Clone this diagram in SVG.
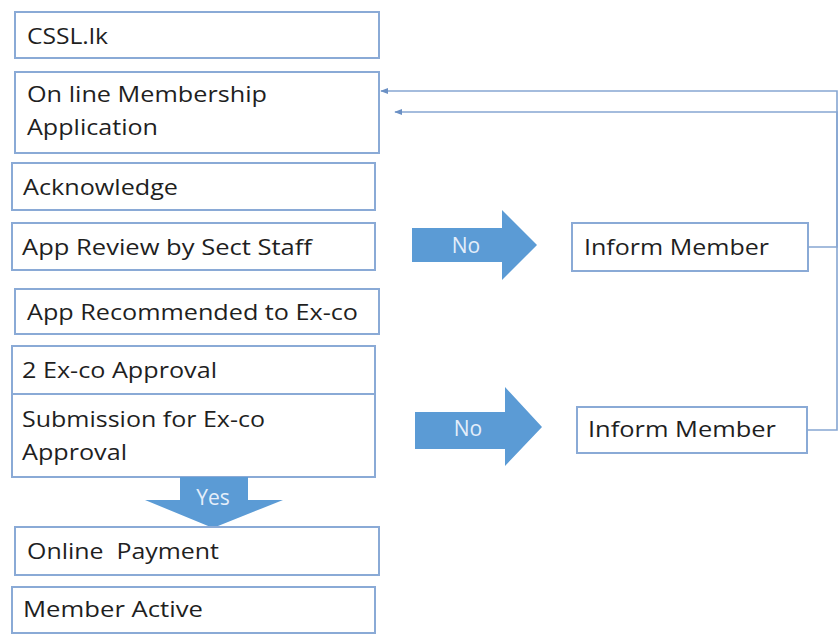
<svg xmlns="http://www.w3.org/2000/svg" width="839" height="634" viewBox="0 0 839 634">
<defs>
<style>
.box{fill:#fff;stroke:#8aaad6;stroke-width:2}
.t{font-family:"Open Sans","Liberation Sans",Arial,sans-serif;font-size:21px;fill:#1f1f1f}
.w{font-family:"Open Sans","Liberation Sans",Arial,sans-serif;font-size:21px;fill:#e4eefa}
.blk{fill:#5b9bd5}
.con{fill:none;stroke:#86a6d2;stroke-width:1.6}
</style>
<marker id="ah" viewBox="0 0 10 10" refX="9" refY="5" markerWidth="5" markerHeight="5" orient="auto"><path d="M0,1 L10,5 L0,9 Z" fill="#6b90c4"/></marker>
</defs>
<rect width="839" height="634" fill="#fff"/>
<g id="n-cssl"><rect class="box" x="15" y="12" width="364" height="46"/><text class="t" x="27" y="44" textLength="81" lengthAdjust="spacingAndGlyphs">CSSL.lk</text></g>
<g id="n-online"><rect class="box" x="15" y="72" width="364" height="81"/><text class="t" x="27" y="102" textLength="240" lengthAdjust="spacingAndGlyphs">On line Membership</text><text class="t" x="27" y="135" textLength="131" lengthAdjust="spacingAndGlyphs">Application</text></g>
<g id="n-ack"><rect class="box" x="12" y="163" width="363" height="47"/><text class="t" x="23" y="195" textLength="155" lengthAdjust="spacingAndGlyphs">Acknowledge</text></g>
<g id="n-review"><rect class="box" x="12" y="223" width="363" height="47"/><text class="t" x="22" y="255" textLength="290" lengthAdjust="spacingAndGlyphs">App Review by Sect Staff</text></g>
<g id="n-recommend"><rect class="box" x="15" y="289" width="364" height="45"/><text class="t" x="27" y="320" textLength="331" lengthAdjust="spacingAndGlyphs">App Recommended to Ex-co</text></g>
<g id="n-approval"><rect class="box" x="12" y="346" width="363" height="48"/><text class="t" x="22" y="378" textLength="195" lengthAdjust="spacingAndGlyphs">2 Ex-co Approval</text></g>
<g id="n-submission"><rect class="box" x="12" y="394" width="363" height="83"/><text class="t" x="22" y="427" textLength="243" lengthAdjust="spacingAndGlyphs">Submission for Ex-co</text><text class="t" x="22" y="460" textLength="105" lengthAdjust="spacingAndGlyphs">Approval</text></g>
<g id="n-yes"><path class="blk" d="M180,477 H248 V500 H283 L213,528 L145,500 H180 Z"/><text class="w" x="213" y="505" text-anchor="middle">Yes</text></g>
<g id="n-payment"><rect class="box" x="15" y="527" width="364" height="48"/><text class="t" x="27" y="559" textLength="192" lengthAdjust="spacingAndGlyphs" xml:space="preserve">Online  Payment</text></g>
<g id="n-active"><rect class="box" x="12" y="587" width="363" height="46"/><text class="t" x="23" y="617" textLength="180" lengthAdjust="spacingAndGlyphs">Member Active</text></g>
<g id="n-no1"><path class="blk" d="M412,228 H502 V210 L537,245 L502,280 V262 H412 Z"/><text class="w" x="466" y="253" text-anchor="middle">No</text></g>
<g id="n-inform1"><rect class="box" x="572" y="223" width="236" height="48"/><text class="t" x="584" y="255" textLength="185" lengthAdjust="spacingAndGlyphs">Inform Member</text></g>
<g id="n-no2"><path class="blk" d="M415,412 H505 V387 L542,427 L505,466 V449 H415 Z"/><text class="w" x="468" y="436" text-anchor="middle">No</text></g>
<g id="n-inform2"><rect class="box" x="577" y="407" width="230" height="46"/><text class="t" x="588" y="437" textLength="188" lengthAdjust="spacingAndGlyphs">Inform Member</text></g>
<g id="connectors">
<path class="con" d="M808,247 H837 V112 H395" marker-end="url(#ah)"/>
<path class="con" d="M807,430 H837 V91 H381" marker-end="url(#ah)"/>
</g>
</svg>
